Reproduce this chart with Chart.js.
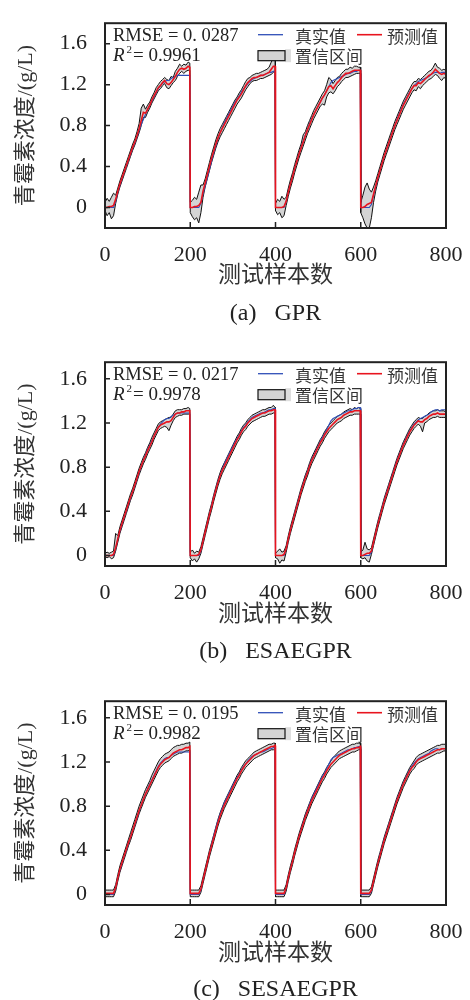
<!DOCTYPE html>
<html><head><meta charset="utf-8">
<script src="https://cdn.jsdelivr.net/npm/chart.js@4.4.0/dist/chart.umd.min.js"></script>
<style>
html,body{margin:0;padding:0;background:#fff;}
body{width:470px;height:1000px;position:relative;overflow:hidden;}
.pn{position:absolute;left:0;width:470px;height:300px;}
.cap{position:absolute;left:105px;width:341px;text-align:center;font-family:"Liberation Serif","Noto Sans CJK SC",serif;font-size:24px;line-height:26px;color:#222;white-space:pre;}
</style></head><body>
<div class="pn" style="top:0px"><canvas id="ca" width="470" height="300"></canvas></div>
<div class="cap" style="top:299px">(a)&nbsp;&nbsp;&nbsp;GPR</div>
<div class="pn" style="top:339px"><canvas id="cb" width="470" height="300"></canvas></div>
<div class="cap" style="top:637px">(b)&nbsp;&nbsp;&nbsp;ESAEGPR</div>
<div class="pn" style="top:678px"><canvas id="cc" width="470" height="300"></canvas></div>
<div class="cap" style="top:975px">(c)&nbsp;&nbsp;&nbsp;SESAEGPR</div>
<script>
// ---------- data ----------
const sampleIdx = [
0,5,10,15,20,25,30,35,40,45,50,55,60,65,70,75,80,85,90,95,100,105,110,115,120,125,130,135,140,145,150,155,160,165,170,175,180,185,190,195,199,
200,205,210,215,220,225,230,235,240,245,250,255,260,265,270,275,280,285,290,295,300,305,310,315,320,325,330,335,340,345,350,355,360,365,370,375,380,385,390,395,399,
400,405,410,415,420,425,430,435,440,445,450,455,460,465,470,475,480,485,490,495,500,505,510,515,520,525,530,535,540,545,550,555,560,565,570,575,580,585,590,595,599,
600,605,610,615,620,625,630,635,640,645,650,655,660,665,670,675,680,685,690,695,700,705,710,715,720,725,730,735,740,745,750,755,760,765,770,775,780,785,790,795,799];

const trueVals = [
0,0,0,0,0,0.06,0.15,0.22,0.28,0.35,0.40,0.46,0.52,0.58,0.63,0.69,0.75,0.81,0.86,0.91,0.96,1.00,1.04,1.08,1.12,1.16,1.19,1.21,1.23,1.24,1.24,1.26,1.27,1.28,1.29,1.29,1.29,1.29,1.29,1.29,1.29,
0,0,0,0,0,0.04,0.13,0.21,0.29,0.37,0.45,0.53,0.60,0.67,0.73,0.78,0.83,0.87,0.91,0.95,0.99,1.03,1.06,1.09,1.13,1.16,1.18,1.21,1.23,1.25,1.26,1.27,1.28,1.29,1.29,1.30,1.31,1.32,1.32,1.33,1.33,
0,0,0,0,0,0.06,0.15,0.23,0.30,0.38,0.45,0.52,0.59,0.65,0.71,0.76,0.82,0.87,0.91,0.95,0.99,1.03,1.07,1.10,1.14,1.18,1.22,1.24,1.25,1.26,1.27,1.28,1.29,1.30,1.31,1.31,1.32,1.33,1.33,1.34,1.34,
0,0,0,0,0,0.03,0.12,0.20,0.28,0.36,0.43,0.50,0.56,0.62,0.68,0.74,0.80,0.86,0.91,0.96,1.01,1.05,1.09,1.13,1.16,1.19,1.21,1.23,1.24,1.25,1.26,1.27,1.28,1.30,1.31,1.32,1.32,1.31,1.32,1.32,1.32];

// (a) GPR
const predA = [
0.00,0.00,0.01,0.01,0.02,0.08,0.16,0.23,0.29,0.35,0.41,0.47,0.53,0.59,0.64,0.70,0.77,0.85,0.93,0.92,0.96,1.00,1.05,1.09,1.13,1.17,1.19,1.22,1.24,1.21,1.20,1.22,1.25,1.28,1.32,1.35,1.36,1.35,1.36,1.38,1.37,
0.00,0.00,0.01,0.01,0.02,0.05,0.16,0.24,0.32,0.40,0.48,0.55,0.62,0.68,0.73,0.77,0.81,0.85,0.89,0.93,0.97,1.01,1.05,1.08,1.11,1.15,1.19,1.22,1.24,1.26,1.27,1.27,1.28,1.29,1.29,1.30,1.31,1.32,1.35,1.38,1.38,
0.00,0.00,0.00,0.00,0.01,0.06,0.15,0.23,0.30,0.38,0.45,0.52,0.58,0.64,0.70,0.76,0.81,0.86,0.91,0.95,0.99,1.03,1.07,1.10,1.14,1.18,1.19,1.16,1.19,1.22,1.24,1.27,1.29,1.31,1.31,1.32,1.33,1.34,1.34,1.34,1.34,
0.00,0.00,0.01,0.03,0.04,0.05,0.13,0.21,0.29,0.36,0.43,0.50,0.56,0.62,0.68,0.74,0.80,0.85,0.90,0.95,1.00,1.04,1.08,1.12,1.16,1.19,1.19,1.22,1.21,1.23,1.25,1.27,1.29,1.30,1.32,1.35,1.33,1.31,1.30,1.31,1.30];
const upperA = [
0.05,0.09,0.06,0.10,0.14,0.12,0.19,0.26,0.32,0.38,0.44,0.50,0.56,0.62,0.67,0.74,0.82,0.97,1.01,0.96,1.00,1.03,1.08,1.12,1.17,1.20,1.23,1.25,1.27,1.25,1.24,1.28,1.27,1.33,1.36,1.40,1.38,1.40,1.39,1.42,1.41,
0.05,0.07,0.10,0.08,0.15,0.22,0.22,0.28,0.36,0.44,0.52,0.59,0.66,0.72,0.77,0.81,0.85,0.89,0.93,0.97,1.01,1.05,1.08,1.12,1.15,1.19,1.23,1.26,1.27,1.29,1.30,1.31,1.31,1.32,1.33,1.34,1.35,1.37,1.42,1.46,1.44,
0.04,0.08,0.06,0.11,0.08,0.10,0.19,0.27,0.34,0.42,0.49,0.56,0.62,0.71,0.74,0.80,0.85,0.90,0.95,0.99,1.03,1.07,1.11,1.14,1.20,1.27,1.25,1.21,1.24,1.27,1.28,1.31,1.33,1.35,1.35,1.37,1.36,1.38,1.38,1.37,1.37,
0.05,0.12,0.20,0.24,0.18,0.15,0.20,0.26,0.33,0.40,0.47,0.54,0.60,0.66,0.72,0.78,0.84,0.89,0.94,0.99,1.04,1.08,1.12,1.16,1.20,1.23,1.23,1.26,1.25,1.27,1.29,1.31,1.33,1.34,1.37,1.41,1.37,1.36,1.34,1.35,1.34];
const lowerA = [
-0.03,-0.08,-0.05,-0.11,-0.08,0.04,0.13,0.20,0.26,0.32,0.38,0.44,0.50,0.56,0.61,0.67,0.73,0.80,0.88,0.88,0.93,0.97,1.02,1.06,1.10,1.14,1.16,1.19,1.21,1.17,1.16,1.19,1.22,1.24,1.28,1.31,1.33,1.31,1.33,1.34,1.34,
-0.05,-0.09,-0.12,-0.10,-0.15,-0.05,0.10,0.20,0.28,0.36,0.44,0.51,0.58,0.64,0.69,0.73,0.77,0.81,0.85,0.89,0.93,0.97,1.01,1.04,1.07,1.11,1.15,1.18,1.21,1.23,1.24,1.24,1.25,1.26,1.26,1.27,1.28,1.29,1.30,1.32,1.33,
-0.03,-0.07,-0.05,-0.10,-0.08,0.02,0.11,0.19,0.26,0.34,0.41,0.48,0.54,0.60,0.66,0.72,0.77,0.82,0.87,0.91,0.95,0.99,1.01,1.00,1.08,1.12,1.13,1.11,1.14,1.18,1.20,1.23,1.25,1.27,1.27,1.28,1.29,1.30,1.31,1.31,1.31,
-0.05,-0.10,-0.16,-0.20,-0.20,-0.10,0.05,0.16,0.25,0.32,0.39,0.46,0.52,0.58,0.64,0.70,0.76,0.81,0.86,0.91,0.96,1.00,1.04,1.08,1.12,1.15,1.14,1.18,1.16,1.19,1.21,1.23,1.25,1.26,1.28,1.30,1.29,1.26,1.24,1.27,1.26];

// (b) ESAEGPR
const predB = [
0.00,0.00,0.00,0.00,0.01,0.07,0.15,0.23,0.29,0.35,0.41,0.47,0.53,0.58,0.64,0.70,0.76,0.81,0.86,0.90,0.95,0.99,1.03,1.08,1.12,1.16,1.18,1.19,1.20,1.21,1.21,1.22,1.25,1.28,1.29,1.29,1.30,1.30,1.31,1.31,1.31,
0.00,0.00,0.00,0.00,0.01,0.05,0.13,0.21,0.29,0.37,0.44,0.52,0.59,0.66,0.72,0.77,0.81,0.85,0.89,0.93,0.97,1.01,1.05,1.08,1.12,1.15,1.17,1.20,1.22,1.24,1.25,1.26,1.27,1.28,1.29,1.29,1.30,1.31,1.31,1.32,1.32,
0.00,0.00,0.00,0.00,0.01,0.06,0.15,0.23,0.30,0.37,0.44,0.51,0.58,0.64,0.70,0.75,0.81,0.86,0.90,0.94,0.98,1.02,1.05,1.09,1.12,1.15,1.17,1.19,1.21,1.23,1.24,1.25,1.27,1.28,1.29,1.30,1.30,1.31,1.31,1.31,1.31,
0.00,0.00,0.01,0.02,0.02,0.04,0.12,0.20,0.28,0.35,0.42,0.49,0.55,0.61,0.67,0.73,0.79,0.85,0.90,0.95,1.00,1.04,1.08,1.12,1.15,1.18,1.20,1.22,1.21,1.21,1.23,1.24,1.26,1.27,1.28,1.28,1.29,1.28,1.28,1.28,1.28];
const upperB = [
0.02,0.03,0.02,0.03,0.04,0.20,0.18,0.26,0.32,0.38,0.44,0.50,0.56,0.61,0.67,0.73,0.79,0.84,0.89,0.93,0.98,1.02,1.07,1.11,1.15,1.19,1.21,1.22,1.23,1.24,1.25,1.25,1.28,1.31,1.32,1.32,1.32,1.33,1.33,1.34,1.33,
0.03,0.05,0.02,0.04,0.03,0.08,0.16,0.24,0.32,0.40,0.47,0.55,0.62,0.69,0.75,0.80,0.84,0.88,0.92,0.96,1.00,1.04,1.08,1.11,1.15,1.18,1.20,1.23,1.25,1.27,1.28,1.29,1.30,1.31,1.32,1.32,1.33,1.34,1.34,1.36,1.34,
0.02,0.04,0.06,0.03,0.04,0.09,0.18,0.26,0.33,0.40,0.47,0.54,0.61,0.67,0.73,0.78,0.84,0.89,0.93,0.97,1.01,1.05,1.08,1.12,1.15,1.18,1.20,1.22,1.24,1.26,1.27,1.28,1.30,1.31,1.32,1.33,1.32,1.34,1.33,1.34,1.33,
0.03,0.05,0.12,0.06,0.05,0.07,0.15,0.23,0.31,0.38,0.45,0.52,0.58,0.64,0.70,0.76,0.82,0.88,0.93,0.98,1.03,1.07,1.11,1.15,1.18,1.21,1.23,1.25,1.24,1.24,1.26,1.27,1.29,1.30,1.31,1.31,1.32,1.31,1.31,1.31,1.30];
const lowerB = [
-0.01,-0.02,-0.01,-0.03,-0.02,0.04,0.12,0.20,0.26,0.32,0.38,0.44,0.50,0.55,0.61,0.67,0.73,0.78,0.83,0.87,0.92,0.96,1.00,1.05,1.09,1.13,1.15,1.16,1.17,1.16,1.13,1.18,1.22,1.25,1.26,1.27,1.27,1.28,1.28,1.28,1.28,
-0.02,-0.05,-0.03,-0.06,-0.03,0.02,0.10,0.18,0.26,0.34,0.41,0.49,0.56,0.63,0.69,0.74,0.78,0.82,0.86,0.90,0.94,0.98,1.02,1.05,1.09,1.12,1.14,1.17,1.19,1.21,1.22,1.23,1.24,1.25,1.26,1.26,1.27,1.28,1.28,1.29,1.29,
-0.02,-0.03,-0.07,-0.04,-0.05,0.03,0.12,0.20,0.27,0.34,0.41,0.48,0.55,0.61,0.67,0.72,0.78,0.83,0.87,0.91,0.95,0.99,1.02,1.06,1.09,1.12,1.14,1.16,1.18,1.20,1.21,1.22,1.24,1.25,1.26,1.27,1.27,1.28,1.28,1.28,1.28,
-0.02,-0.03,-0.02,-0.05,-0.06,0.01,0.09,0.17,0.25,0.32,0.39,0.46,0.52,0.58,0.64,0.70,0.76,0.82,0.87,0.92,0.97,1.01,1.05,1.09,1.12,1.15,1.17,1.19,1.17,1.12,1.20,1.21,1.23,1.24,1.25,1.25,1.26,1.25,1.25,1.25,1.25];

// (c) SESAEGPR
const predC = [
0.01,0.01,0.01,0.01,0.01,0.06,0.15,0.23,0.29,0.35,0.41,0.47,0.52,0.58,0.64,0.70,0.76,0.81,0.86,0.91,0.95,0.99,1.03,1.07,1.11,1.15,1.18,1.20,1.22,1.23,1.24,1.26,1.28,1.29,1.30,1.31,1.31,1.32,1.33,1.33,1.34,
0.01,0.01,0.01,0.01,0.01,0.05,0.13,0.21,0.29,0.37,0.44,0.51,0.58,0.65,0.71,0.76,0.81,0.85,0.89,0.93,0.97,1.01,1.05,1.08,1.12,1.15,1.18,1.20,1.22,1.24,1.26,1.27,1.28,1.29,1.30,1.31,1.32,1.33,1.34,1.34,1.35,
0.01,0.01,0.01,0.01,0.01,0.06,0.15,0.23,0.30,0.38,0.45,0.52,0.58,0.64,0.70,0.75,0.80,0.85,0.89,0.93,0.97,1.01,1.05,1.08,1.12,1.15,1.18,1.20,1.22,1.24,1.26,1.27,1.28,1.29,1.30,1.31,1.32,1.32,1.33,1.33,1.34,
0.01,0.01,0.01,0.01,0.01,0.04,0.12,0.20,0.28,0.35,0.42,0.49,0.55,0.61,0.67,0.73,0.79,0.85,0.90,0.95,1.00,1.04,1.08,1.12,1.15,1.17,1.20,1.22,1.23,1.24,1.25,1.26,1.27,1.28,1.29,1.30,1.31,1.31,1.32,1.32,1.32];
const upperC = [
0.04,0.04,0.04,0.04,0.04,0.09,0.18,0.26,0.32,0.38,0.44,0.50,0.56,0.62,0.68,0.74,0.80,0.85,0.90,0.95,0.99,1.03,1.08,1.12,1.16,1.20,1.23,1.25,1.27,1.28,1.29,1.31,1.33,1.34,1.35,1.35,1.36,1.36,1.37,1.37,1.38,
0.04,0.04,0.04,0.04,0.04,0.08,0.16,0.24,0.32,0.40,0.47,0.54,0.61,0.68,0.74,0.79,0.84,0.88,0.92,0.96,1.00,1.04,1.08,1.11,1.15,1.18,1.21,1.23,1.25,1.27,1.29,1.30,1.31,1.32,1.33,1.34,1.35,1.36,1.36,1.37,1.37,
0.04,0.04,0.04,0.04,0.04,0.09,0.18,0.26,0.33,0.41,0.48,0.55,0.61,0.67,0.73,0.78,0.83,0.88,0.92,0.96,1.00,1.04,1.08,1.11,1.15,1.18,1.21,1.24,1.26,1.28,1.30,1.31,1.32,1.33,1.34,1.35,1.36,1.36,1.37,1.37,1.37,
0.04,0.04,0.04,0.04,0.04,0.07,0.15,0.23,0.31,0.38,0.45,0.52,0.58,0.64,0.70,0.76,0.82,0.88,0.93,0.98,1.03,1.07,1.11,1.15,1.18,1.21,1.24,1.26,1.27,1.28,1.29,1.30,1.31,1.32,1.33,1.34,1.35,1.35,1.36,1.36,1.36];
const lowerC = [
-0.02,-0.02,-0.02,-0.02,-0.02,0.03,0.12,0.20,0.26,0.32,0.38,0.44,0.49,0.55,0.61,0.67,0.73,0.78,0.83,0.88,0.92,0.96,1.00,1.04,1.08,1.12,1.15,1.17,1.19,1.20,1.21,1.23,1.25,1.26,1.27,1.28,1.28,1.29,1.30,1.30,1.31,
-0.02,-0.02,-0.02,-0.02,-0.02,0.02,0.10,0.18,0.26,0.34,0.41,0.48,0.55,0.62,0.68,0.73,0.78,0.82,0.86,0.90,0.94,0.98,1.02,1.05,1.09,1.12,1.15,1.17,1.19,1.21,1.23,1.24,1.25,1.26,1.27,1.28,1.29,1.30,1.31,1.31,1.32,
-0.02,-0.02,-0.02,-0.02,-0.02,0.03,0.12,0.20,0.27,0.35,0.42,0.49,0.55,0.61,0.67,0.72,0.77,0.82,0.86,0.90,0.94,0.98,1.02,1.05,1.09,1.12,1.15,1.17,1.19,1.21,1.23,1.24,1.25,1.26,1.27,1.28,1.29,1.29,1.30,1.31,1.32,
-0.02,-0.02,-0.02,-0.02,-0.02,0.01,0.09,0.17,0.25,0.32,0.39,0.46,0.52,0.58,0.64,0.70,0.76,0.82,0.87,0.92,0.97,1.01,1.05,1.09,1.12,1.14,1.17,1.19,1.20,1.21,1.22,1.23,1.24,1.25,1.26,1.27,1.28,1.28,1.29,1.30,1.30];

const xTickVals = [0,200,400,600,800];
const xTickLabels = ['0','200','400','600','800'];
const yTickVals = [0,0.4,0.8,1.2,1.6];
const yTickLabels = ['0','0.4','0.8','1.2','1.6'];
const seriesNames = ['真实值','预测值','置信区间'];
const xTitle = '测试样本数';
const yTitle = '青霉素浓度/(g/L)';
const rmseTexts = ['0. 0287','0. 0217','0. 0195'];
const r2Texts = ['0.9961','0.9978','0.9982'];

// ---------- drawing ----------
const SERIF = '"Liberation Serif", "Noto Sans CJK SC", serif';
const CJK = '"Noto Sans CJK SC", sans-serif';
const BLUE = '#2f4fb8', RED = '#e8141e', INK = '#222', SOFT = '#333';

function pts(arr){ return sampleIdx.map((x,i)=>({x:x, y:arr[i]})); }

const framePlugin = {
  id:'frame',
  afterDraw(chart){
    const o = chart.options.plugins.frame;
    const {ctx, chartArea:{left,top,right,bottom}, scales:{x,y}} = chart;
    ctx.save();
    ctx.strokeStyle = INK;
    ctx.lineWidth = 1.5;
    ctx.beginPath();
    y.ticks.forEach(t=>{ const py = y.getPixelForValue(t.value); ctx.moveTo(left, py); ctx.lineTo(left+5, py); });
    x.ticks.forEach(t=>{ const px = x.getPixelForValue(t.value); ctx.moveTo(px, bottom); ctx.lineTo(px, bottom-6); });
    ctx.stroke();
    ctx.lineWidth = 2;
    ctx.strokeRect(left, top, right-left, bottom-top);
    // metrics text
    ctx.fillStyle = INK;
    ctx.textBaseline = 'middle';
    ctx.textAlign = 'left';
    ctx.font = '18.5px ' + SERIF;
    ctx.fillText('RMSE = ' + o.rmse, left+8, top+12.5);
    ctx.font = 'italic 19px ' + SERIF;
    ctx.fillText('R', left+8, top+33);
    ctx.font = '11px ' + SERIF;
    ctx.fillText('2', left+21.5, top+27);
    ctx.font = '19px ' + SERIF;
    ctx.fillText('= ' + o.r2, left+28, top+33);
    // legend
    ctx.lineWidth = 1.3;
    ctx.strokeStyle = BLUE;
    ctx.beginPath(); ctx.moveTo(left+153, top+11.5); ctx.lineTo(left+178, top+11.5); ctx.stroke();
    ctx.strokeStyle = RED;
    ctx.lineWidth = 1.6;
    ctx.beginPath(); ctx.moveTo(left+252, top+11.5); ctx.lineTo(left+277, top+11.5); ctx.stroke();
    ctx.fillStyle = '#dedede';
    ctx.fillRect(left+180, top+26, 6, 13);
    ctx.fillStyle = '#d4d4d4';
    ctx.fillRect(left+153, top+27.5, 27, 10);
    ctx.strokeStyle = '#111';
    ctx.lineWidth = 1.2;
    ctx.strokeRect(left+153, top+27.5, 27, 10);
    ctx.fillStyle = SOFT;
    ctx.font = '17px ' + CJK;
    ctx.fillText(seriesNames[0], left+190, top+13);
    ctx.fillText(seriesNames[1], left+282, top+13);
    ctx.fillText(seriesNames[2], left+190, top+33);
    ctx.restore();
  }
};

const panels = [
  {id:'ca', pred:predA, upper:upperA, lower:lowerA, yMin:-0.2, yMax:1.8, xH:72, k:0},
  {id:'cb', pred:predB, upper:upperB, lower:lowerB, yMin:-0.095, yMax:1.75, xH:73, k:1},
  {id:'cc', pred:predC, upper:upperC, lower:lowerC, yMin:-0.095, yMax:1.75, xH:73, k:2}
];

panels.forEach(p=>{
  new Chart(document.getElementById(p.id), {
    type:'line',
    data:{ datasets:[
      {label:seriesNames[1], data:pts(p.pred), borderColor:RED, borderWidth:1.6, fill:false},
      {label:seriesNames[0], data:pts(trueVals), borderColor:BLUE, borderWidth:1.1, fill:false},
      {label:seriesNames[2], data:pts(p.upper), borderColor:'#111', borderWidth:1, backgroundColor:'#d4d4d4', fill:'+1'},
      {label:'lower', data:pts(p.lower), borderColor:'#111', borderWidth:1, fill:false}
    ]},
    options:{
      responsive:false, animation:false, devicePixelRatio:1,
      layout:{padding:{top:6, right:24, left:0, bottom:0}},
      elements:{point:{radius:0}, line:{tension:0}},
      plugins:{
        legend:{display:false}, tooltip:{enabled:false},
        filler:{drawTime:'beforeDatasetsDraw'},
        frame:{rmse:rmseTexts[p.k], r2:r2Texts[p.k]}
      },
      scales:{
        x:{
          type:'linear', min:0, max:800,
          grid:{display:false}, border:{display:false},
          afterBuildTicks:s=>{ s.ticks = xTickVals.map(v=>({value:v})); },
          afterFit:s=>{ s.height = p.xH; },
          ticks:{padding:6, color:INK, autoSkip:false, maxRotation:0,
                 font:{family:SERIF, size:22},
                 callback:(v,i)=>xTickLabels[i]},
          title:{display:true, text:xTitle, color:SOFT, font:{family:CJK, size:23},
                 padding:{top:0, bottom:13}}
        },
        y:{
          type:'linear', min:p.yMin, max:p.yMax,
          grid:{display:false}, border:{display:false},
          afterBuildTicks:s=>{ s.ticks = yTickVals.map(v=>({value:v})); },
          afterFit:s=>{ s.width = 105; },
          ticks:{padding:10, color:INK, font:{family:SERIF, size:22},
                 callback:(v,i)=>yTickLabels[i]},
          title:{display:true, text:yTitle, color:SOFT, font:{family:SERIF, size:22},
                 padding:{top:13, bottom:0}}
        }
      }
    },
    plugins:[framePlugin]
  });
});
</script>
</body></html>
